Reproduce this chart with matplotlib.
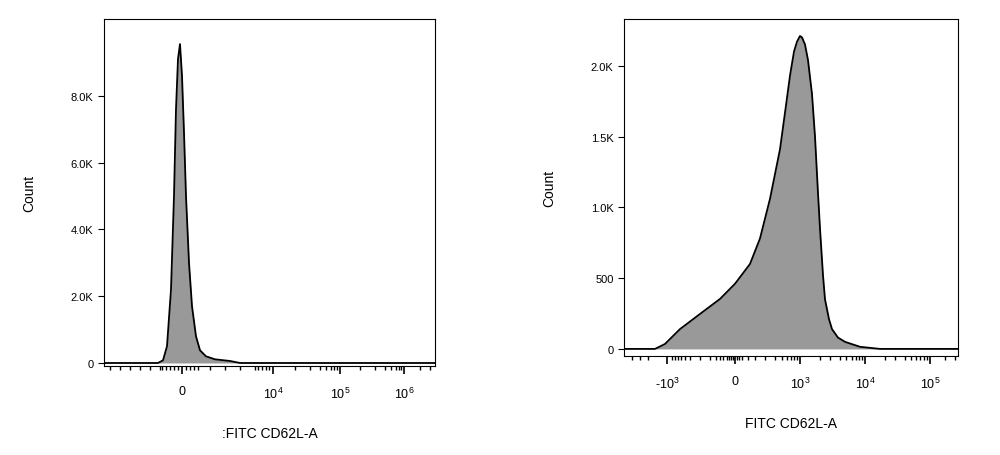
import matplotlib
matplotlib.use('Agg')
import matplotlib.pyplot as plt
import numpy as np

plt.rcParams['font.family'] = ['Liberation Sans', 'DejaVu Sans']
plt.rcParams['mathtext.fontset'] = 'custom'
plt.rcParams['mathtext.rm'] = 'Liberation Sans'
plt.rcParams['mathtext.default'] = 'regular'
plt.rcParams['axes.unicode_minus'] = False

# x positions are in the display-channel units of the cytometry axis (biexponential, drawn linearly)
left_x = [104, 158, 163, 167, 171, 174, 176, 178, 180, 182, 184, 186, 189, 192, 196, 200, 206, 215,
          230, 240, 435]
left_count = [0, 0, 80, 500, 2200, 5000, 7600, 9100, 9550, 8600, 6900, 5000, 3000, 1700, 800, 380,
              200, 110, 60, 0, 0]
left_xticks = [182, 273, 340, 404]
left_xlabels = ['0', '$10^4$', '$10^5$', '$10^6$']
left_minor = [110, 120, 130, 140, 150, 160, 162, 166, 170, 174, 178, 186, 190, 194, 198, 210, 225,
              240, 255, 258, 262, 266, 269, 295, 310, 320, 326, 331, 334, 337, 360, 375, 385, 391,
              396, 399, 401, 420, 430]
left_yticks = [0, 2000, 4000, 6000, 8000]
left_ylabels = ['0', '2.0K', '4.0K', '6.0K', '8.0K']

right_x = [624, 655, 665, 680, 700, 720, 735, 750, 760, 770, 780, 786, 790, 794, 797, 800, 802, 805,
           808, 812, 815, 818, 820, 823, 825, 829, 832, 838, 845, 860, 880, 958]
right_count = [0, 0, 35, 140, 247, 353, 460, 600, 780, 1060, 1410, 1720, 1930, 2100, 2170, 2210,
               2200, 2150, 2040, 1800, 1500, 1100, 850, 520, 350, 210, 140, 80, 50, 15, 0, 0]
right_xticks = [667, 735, 800, 865, 930]
right_xlabels = ['-$10^3$', '0', '$10^3$', '$10^4$', '$10^5$']
right_minor = [632, 640, 648, 672, 675, 678, 681, 685, 690, 700, 710, 716, 720, 723, 727, 729, 731,
               733, 737, 739, 742, 748, 755, 765, 775, 782, 787, 791, 794, 797, 820, 830, 840, 846,
               852, 856, 859, 862, 885, 895, 905, 911, 916, 920, 924, 927, 945, 955]
right_yticks = [0, 500, 1000, 1500, 2000]
right_ylabels = ['0', '500', '1.0K', '1.5K', '2.0K']

fig = plt.figure(figsize=(10, 4.56), dpi=100)
ax1 = fig.add_axes([0.104, 1 - 367 / 456, 0.331, 347 / 456])
ax2 = fig.add_axes([0.624, 1 - 357 / 456, 0.334, 337 / 456])

panels = [
    (ax1, left_x, left_count, left_xticks, left_xlabels, left_minor, left_yticks, left_ylabels,
     (104, 435), (-90, 10300), ':FITC CD62L-A'),
    (ax2, right_x, right_count, right_xticks, right_xlabels, right_minor, right_yticks, right_ylabels,
     (624, 958), (-50, 2330), 'FITC CD62L-A'),
]

for ax, x, c, xt, xl, xm, yt, yl, xlim, ylim, xlabel in panels:
    ax.fill_between(x, c, 0, color='#999999', lw=0)
    ax.plot(x, c, color='black', lw=1.3)
    ax.set_xlim(*xlim)
    ax.set_ylim(*ylim)
    ax.set_xticks(xt)
    ax.set_xticklabels(xl, fontsize=9)
    ax.set_xticks(xm, minor=True)
    ax.set_yticks(yt)
    ax.set_yticklabels(yl, fontsize=8)
    ax.tick_params(axis='x', which='major', length=6, width=1.2, direction='out', pad=8)
    ax.tick_params(axis='x', which='minor', length=3, width=1, direction='out')
    ax.tick_params(axis='y', length=4, direction='out')
    ax.set_xlabel(xlabel, fontsize=10, labelpad=18)
    ax.set_ylabel('Count', fontsize=10, labelpad=25)
    for s in ax.spines.values():
        s.set_linewidth(0.8)

fig.savefig('out.png', dpi=100)
